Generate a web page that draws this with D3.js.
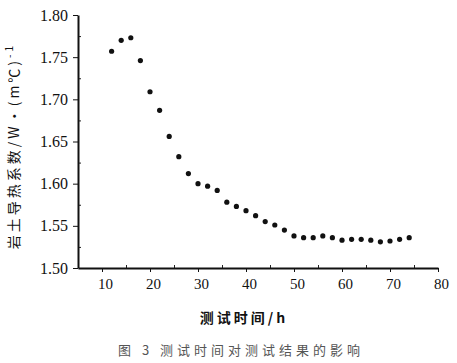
<!DOCTYPE html>
<html>
<head>
<meta charset="utf-8">
<script src="https://cdn.jsdelivr.net/npm/d3@7"></script>
<style>
  body { margin: 0; background: #fff; }
  svg { display: block; }
</style>
</head>
<body>
<svg id="chart" width="457" height="363"></svg>
<script>

/* data */

let hours = [12, 14, 16, 18, 20, 22, 24, 26, 28, 30, 32, 34, 36, 38, 40, 42,
  44, 46, 48, 50, 52, 54, 56, 58, 60, 62, 64, 66, 68, 70, 72, 74];

let conductivity = [1.757, 1.770, 1.773, 1.746, 1.709, 1.687, 1.656, 1.632,
  1.612, 1.600, 1.597, 1.592, 1.578, 1.573, 1.568, 1.562,
  1.555, 1.551, 1.545, 1.538, 1.536, 1.536, 1.538, 1.536,
  1.533, 1.534, 1.534, 1.533, 1.531, 1.532, 1.534, 1.536];

let xTicks = [10, 20, 30, 40, 50, 60, 70, 80];
let yTicks = [1.50, 1.55, 1.60, 1.65, 1.70, 1.75, 1.80];

let xTitle = "测试时间/h";
let caption = "图 3  测试时间对测试结果的影响";

/* layout */

let plotLeft = 78, plotRight = 438, plotTop = 15, plotBottom = 268;

let svg = d3.select("#chart");

let x = d3.scaleLinear().domain([5, 80]).range([plotLeft, plotRight]);
let y = d3.scaleLinear().domain([1.50, 1.80]).range([plotBottom, plotTop]);

const serif = "'Liberation Serif', 'DejaVu Serif', serif";
const cjk = "'Noto Sans CJK SC', sans-serif";

// minor ticks (inside)
svg.append("g")
  .attr("transform", "translate(0," + plotBottom + ")")
  .call(d3.axisTop(x).tickValues(d3.range(15, 80, 10)).tickSize(3).tickFormat(""))
  .call(g => g.select(".domain").remove())
  .selectAll("line").attr("stroke", "#222");

svg.append("g")
  .attr("transform", "translate(" + plotLeft + ",0)")
  .call(d3.axisRight(y).tickValues(d3.range(1.525, 1.8, 0.05)).tickSize(3).tickFormat(""))
  .call(g => g.select(".domain").remove())
  .selectAll("line").attr("stroke", "#222");

// x axis
let xAxis = svg.append("g")
  .attr("transform", "translate(0," + plotBottom + ")")
  .call(d3.axisBottom(x).tickValues(xTicks).tickSize(4).tickSizeOuter(0).tickFormat(d3.format("d")));

xAxis.select(".domain").attr("stroke", "#111").attr("stroke-width", 2);
xAxis.selectAll("line").attr("stroke", "#111");
xAxis.selectAll("text")
  .attr("font-family", serif)
  .attr("font-size", "15px")
  .attr("fill", "#111")
  .attr("dx", 3)
  .attr("dy", "0.95em");

// y axis
let yAxis = svg.append("g")
  .attr("transform", "translate(" + plotLeft + ",0)")
  .call(d3.axisLeft(y).tickValues(yTicks).tickSize(5).tickSizeOuter(0).tickFormat(d3.format(".2f")));

yAxis.select(".domain").attr("stroke", "#111").attr("stroke-width", 2);
yAxis.selectAll("line").attr("stroke", "#111");
yAxis.selectAll("text")
  .attr("font-family", serif)
  .attr("font-size", "16px")
  .attr("fill", "#111")
  .attr("dx", -2);

// points
svg.append("g")
  .selectAll("circle")
  .data(hours)
  .enter().append("circle")
  .attr("cx", d => x(d))
  .attr("cy", (d, i) => y(conductivity[i]))
  .attr("r", 2.6)
  .attr("fill", "#111");

// axis titles
svg.append("text")
  .attr("x", 244)
  .attr("y", 323)
  .attr("text-anchor", "middle")
  .attr("font-family", cjk)
  .attr("font-size", "14px")
  .attr("font-weight", "bold")
  .attr("letter-spacing", "3px")
  .attr("fill", "#111")
  .text(xTitle);

let yTitle = svg.append("text")
  .attr("transform", "translate(19,146) rotate(-90)")
  .attr("text-anchor", "middle")
  .attr("font-family", cjk)
  .attr("font-size", "14px")
  .attr("letter-spacing", "3px")
  .attr("fill", "#111");

yTitle.append("tspan").text("岩土导热系数/W·(m℃)");
yTitle.append("tspan")
  .attr("dy", -6)
  .attr("font-size", "10px")
  .text("-1");

svg.append("text")
  .attr("x", 241)
  .attr("y", 355)
  .attr("text-anchor", "middle")
  .attr("font-family", cjk)
  .attr("font-size", "13px")
  .attr("letter-spacing", "4px")
  .attr("fill", "#555")
  .text(caption);

</script>
</body>
</html>
